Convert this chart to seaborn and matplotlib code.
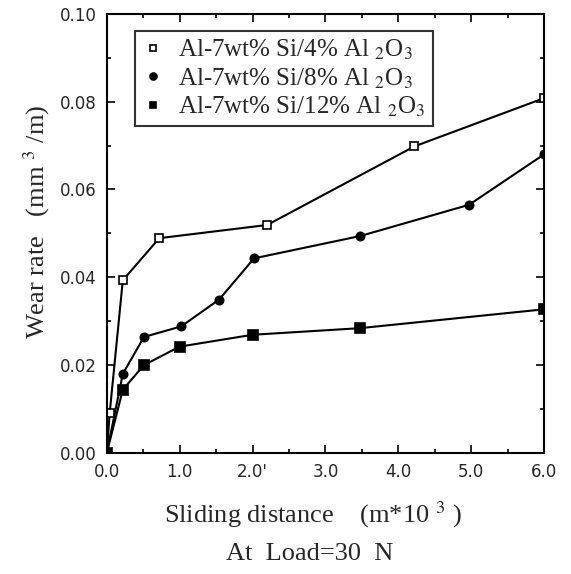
import matplotlib
matplotlib.use("Agg")
import matplotlib.pyplot as plt
import seaborn as sns
import pandas as pd

sns.set_style("ticks")
plt.rcParams['font.family'] = ['Liberation Serif', 'DejaVu Serif']
plt.rcParams['mathtext.fontset'] = 'stix'

# Data
x_4 = [0.0, 0.04, 0.22, 0.72, 2.2, 4.22, 6.0]
y_4 = [0.0, 0.0091, 0.0393, 0.0489, 0.0519, 0.0698, 0.0808]

x_8 = [0.0, 0.22, 0.51, 1.02, 1.54, 2.02, 3.48, 4.97, 6.0]
y_8 = [0.0, 0.0180, 0.0264, 0.0288, 0.0349, 0.0443, 0.0494, 0.0565, 0.0680]

x_12 = [0.0, 0.22, 0.51, 1.0, 2.0, 3.47, 6.0]
y_12 = [0.0, 0.0144, 0.0200, 0.0242, 0.0269, 0.0284, 0.0327]

labels = ["Al-7wt% Si/4% Al $_2$O$_3$",
          "Al-7wt% Si/8% Al $_2$O$_3$",
          "Al-7wt% Si/12% Al $_2$O$_3$"]

x_ticks = [0, 1, 2, 3, 4, 5, 6]
x_ticklabels = ["0.0", "1.0", "2.0'", "3.0", "4.0", "5.0", "6.0"]
y_ticks = [0.0, 0.02, 0.04, 0.06, 0.08, 0.10]
y_ticklabels = ["0.00", "0.02", "0.04", "0.06", "0.08", "0.10"]

fig = plt.figure(figsize=(5.71, 5.74), dpi=100)
ax = fig.add_axes([0.187, 0.211, 0.766, 0.765])

series = [
    (x_4, y_4, "s", "white", 6),
    (x_8, y_8, "o", "black", 6),
    (x_12, y_12, "s", "black", 6.5),
]
for (xs, ys, mk, fc, ms), lab in zip(series, labels):
    df = pd.DataFrame({"x": xs, "y": ys})
    sns.lineplot(data=df, x="x", y="y", ax=ax, color="black", linewidth=1.5,
                 marker=mk, markersize=ms, markerfacecolor=fc,
                 markeredgecolor="black", markeredgewidth=1.2, label=lab,
                 sort=False)

ax.set_xlim(0, 6)
ax.set_ylim(0, 0.1)
ax.set_xticks(x_ticks)
ax.set_xticklabels(x_ticklabels, family=['DejaVu Sans'], fontsize=12)
ax.set_yticks(y_ticks)
ax.set_yticklabels(y_ticklabels, family=['DejaVu Sans'], fontsize=12)
ax.set_xticks([0.5, 1.5, 2.5, 3.5, 4.5, 5.5], minor=True)
ax.set_yticks([0.01, 0.03, 0.05, 0.07, 0.09], minor=True)
ax.tick_params(which='both', direction='in', top=True, right=True,
               color='black', width=1.2)
ax.tick_params(which='major', length=6, pad=7)
ax.tick_params(which='minor', length=3)
for s in ax.spines.values():
    s.set_linewidth(1.5)
    s.set_color('black')

ax.set_xlabel("")
ax.set_ylabel("")
fig.text(0.065, 0.613, "Wear rate   (mm $^3$ /m)", ha='center', va='center',
         rotation=90, fontsize=19)
fig.text(0.548, 0.103, "Sliding distance    (m*10 $^3$ )", ha='center', va='center', fontsize=19)
fig.text(0.543, 0.035, "At  Load=30  N", ha='center', va='center', fontsize=19)

leg = ax.legend(loc='upper left', bbox_to_anchor=(0.037, 0.99), frameon=True,
                fancybox=False, edgecolor='black', fontsize=18,
                handlelength=0.8, handletextpad=0.6, borderpad=0.3,
                labelspacing=0.15)
for h in leg.legend_handles:
    h.set_linestyle('none')
    h.set_markersize(5)
leg.get_frame().set_linewidth(1.5)

fig.savefig("out.png", dpi=100)
